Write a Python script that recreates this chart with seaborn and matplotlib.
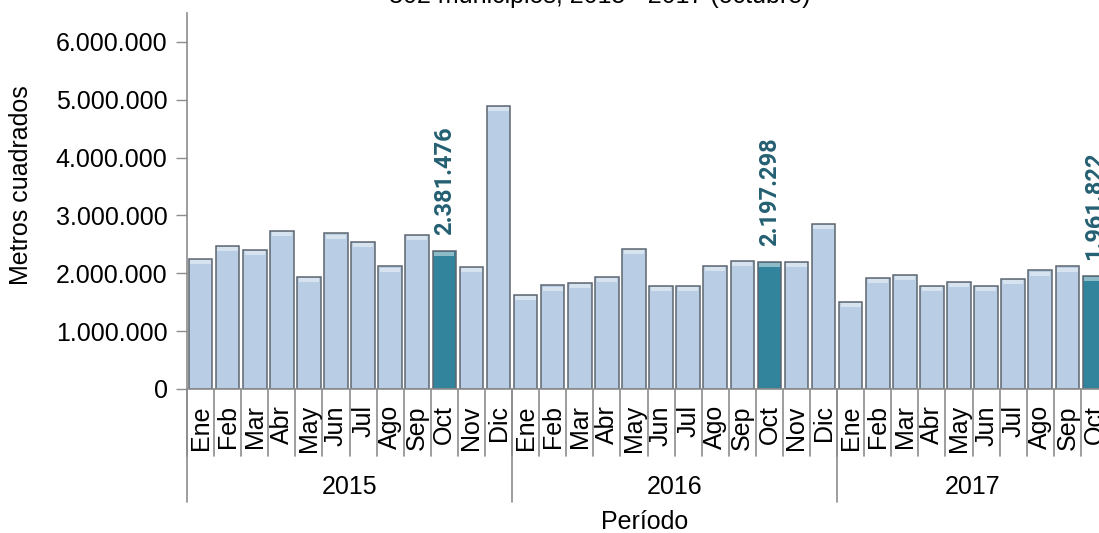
import pandas as pd
import numpy as np
import matplotlib.pyplot as plt
import matplotlib.transforms as mtransforms
from matplotlib.patches import Rectangle
from matplotlib.ticker import FuncFormatter
import seaborn as sns

################ DATA ################
meses_2015 = ['Ene', 'Feb', 'Mar', 'Abr', 'May', 'Jun', 'Jul', 'Ago', 'Sep', 'Oct', 'Nov', 'Dic']
meses_2016 = ['Ene', 'Feb', 'Mar', 'Abr', 'May', 'Jun', 'Jul', 'Ago', 'Sep', 'Oct', 'Nov', 'Dic']
meses_2017 = ['Ene', 'Feb', 'Mar', 'Abr', 'May', 'Jun', 'Jul', 'Ago', 'Sep', 'Oct']

valores_2015 = [2250000, 2470000, 2400000, 2740000, 1940000, 2690000, 2540000,
                2120000, 2660000, 2381476, 2110000, 4900000]
valores_2016 = [1620000, 1790000, 1830000, 1940000, 2420000, 1780000, 1780000,
                2130000, 2210000, 2197298, 2200000, 2850000]
valores_2017 = [1510000, 1920000, 1970000, 1780000, 1850000, 1780000, 1900000,
                2050000, 2120000, 1961822]

anios = ['2015', '2016', '2017']
titulo = "302 municipios, 2015 - 2017 (octubre)"

################ DATAFRAME ################
rows = []
for anio, meses, vals in zip(anios, [meses_2015, meses_2016, meses_2017],
                             [valores_2015, valores_2016, valores_2017]):
    for m, v in zip(meses, vals):
        rows.append({'anio': anio, 'mes': m, 'valor': v,
                     'clave': f"{anio}-{m}", 'destacado': m == 'Oct'})
df = pd.DataFrame(rows)

################ STYLE ################
sns.set_style("white")
plt.rcParams['font.family'] = ['Liberation Sans', 'DejaVu Sans']
plt.rcParams['text.color'] = 'black'
plt.rcParams['axes.labelcolor'] = 'black'
plt.rcParams['ytick.color'] = 'black'

color_claro = '#B9CDE5'
color_oct = '#31849B'
color_texto = '#245F72'
gris = '#8C8C8C'

fig = plt.figure(figsize=(10.99, 5.33), dpi=100)
ax = fig.add_axes([187 / 1099, 1 - 389 / 533, 921 / 1099, 376 / 533])

sns.barplot(data=df, x='clave', y='valor', hue='destacado',
            palette={False: color_claro, True: color_oct}, saturation=1,
            dodge=False, width=0.87, order=df['clave'], legend=False,
            edgecolor='#5E6670', linewidth=1.1, ax=ax)

# light top band on each bar (bevel look)
for p in list(ax.patches):
    h = p.get_height()
    if h > 0:
        ax.add_patch(Rectangle((p.get_x() + 0.06, h - 90000), p.get_width() - 0.12, 70000,
                               facecolor='white', alpha=0.45, lw=0, zorder=p.get_zorder() + 0.1))

ax.set_ylim(0, 6500000)
ax.set_xlim(-0.5, len(df) - 0.5)
ax.set_yticks(np.arange(0, 6000001, 1000000))
ax.yaxis.set_major_formatter(FuncFormatter(lambda v, p: f"{int(v):,}".replace(",", ".")))
ax.tick_params(axis='y', labelsize=18, length=8, width=1, color=gris, labelcolor='black',
               pad=6, left=True)
ax.set_xticks([])
ax.set_xlabel('')

for s in ['top', 'right']:
    ax.spines[s].set_visible(False)
for s in ['left', 'bottom']:
    ax.spines[s].set_color(gris)
    ax.spines[s].set_linewidth(1.2)

ax.set_ylabel("Metros cuadrados", fontsize=18, color='black')
ax.yaxis.set_label_coords(-0.167, 0.543)

################ CATEGORY AXIS (month / year) ################
trans = mtransforms.blended_transform_factory(ax.transData, ax.transAxes)
n = len(df)
for i in range(n + 1):
    ax.plot([i - 0.5, i - 0.5], [0, -0.178], transform=trans, color=gris,
            lw=1.2, clip_on=False)
for i, m in enumerate(df['mes']):
    ax.text(i, -0.043, m, transform=trans, rotation=90, ha='center', va='top',
            fontsize=18, color='black')

inicio = 0
for anio in anios:
    cnt = int((df['anio'] == anio).sum())
    ax.plot([inicio - 0.5, inicio - 0.5], [0, -0.30], transform=trans,
            color=gris, lw=1.2, clip_on=False)
    ax.text(inicio + (cnt - 1) / 2, -0.261, anio, transform=trans,
            ha='center', va='center', fontsize=18, color='black')
    inicio += cnt

ax.text(16.4, -0.354, "Período", transform=trans, ha='center', va='center',
        fontsize=18, color='black')

################ VALUE LABELS ################
for i, (v, d) in enumerate(zip(df['valor'], df['destacado'])):
    if d:
        ax.annotate(f"{int(v):,}".replace(",", "."), xy=(i, v), xytext=(0, 11.5),
                    textcoords='offset points', rotation=90, ha='center',
                    va='bottom', fontsize=17, fontweight='bold',
                    color=color_texto, family=['Roboto', 'DejaVu Sans'],
                    annotation_clip=False)

fig.text(600 / 1099, 1 + 4 / 533, titulo, ha='center', va='center', fontsize=18,
         color='black')

fig.savefig("out.png", dpi=100)
